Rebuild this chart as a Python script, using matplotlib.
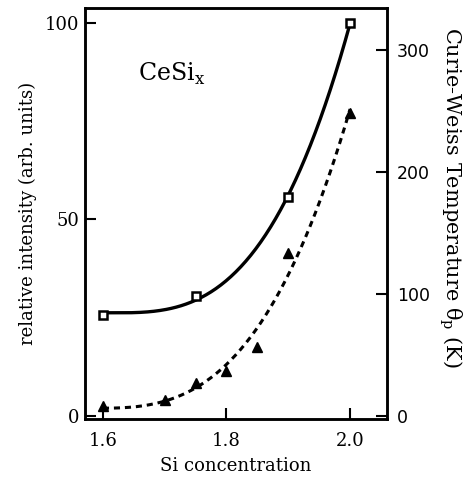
import matplotlib.pyplot as plt
import numpy as np

# data
x_sq = [1.6, 1.75, 1.9, 2.0]
intensity = [25.7, 30.4, 55.6, 100.0]          # relative intensity (arb. units)

x_tri = [1.6, 1.7, 1.75, 1.8, 1.85, 1.9, 2.0]
theta_p = [8, 13, 27, 37, 57, 134, 248]        # Curie-Weiss temperature (K)

xticks = [1.6, 1.8, 2.0]
left_ticks = [0, 50, 100]
right_ticks = [0, 100, 200, 300]


def flat_fit(x, y, xs):
    # least squares a + b*t^2 + c*t^3, flat at the first point
    t = np.asarray(x) - x[0]
    A = np.column_stack([np.ones_like(t), t**2, t**3])
    coef = np.linalg.lstsq(A, np.asarray(y, float), rcond=None)[0]
    ts = xs - x[0]
    return coef[0] + coef[1] * ts**2 + coef[2] * ts**3


plt.rcParams['font.family'] = 'DejaVu Serif'
plt.rcParams['axes.linewidth'] = 1.8

fig = plt.figure(figsize=(4.67, 4.88), dpi=100)
ax = fig.add_axes([0.182, 0.141, 0.647, 0.843])
ax2 = ax.twinx()

xs = np.linspace(1.6, 2.0, 200)
ax.plot(xs, flat_fit(x_sq, intensity, xs), color='black', lw=2.4)
ax.plot(x_sq, intensity, 's', ms=6, mfc='white', mec='black', mew=1.8)

ax2.plot(xs, flat_fit(x_tri, theta_p, xs), color='black', lw=2.2,
         ls=(0, (2.0, 1.6)))
ax2.plot(x_tri, theta_p, '^', ms=7, color='black')

ax.set_xlim(1.571, 2.06)
ax.set_ylim(-0.8, 103.8)
ax2.set_ylim(-2.5, 334.4)

ax.set_xticks(xticks)
ax.set_xticklabels(['1.6', '1.8', '2.0'])
ax.set_yticks(left_ticks)
ax2.set_yticks(right_ticks)

ax.tick_params(direction='in', length=8, width=1.5, labelsize=13, pad=4)
ax.tick_params(axis='x', pad=9)
ax2.tick_params(direction='in', length=8, width=1.5, labelsize=12.5, pad=7)
for lab in ax2.get_yticklabels():
    lab.set_family('DejaVu Sans')

ax.set_xlabel('Si concentration', fontsize=13, labelpad=5)
ax.set_ylabel('relative intensity (arb. units)', fontsize=13, labelpad=6)
ax2.set_ylabel(r'Curie-Weiss Temperature $\mathregular{\theta_p}$ (K)',
               fontsize=15, rotation=270, va='center')
ax2.yaxis.set_label_coords(1.21, 0.54)

ax.text(1.656, 87, r'CeSi$_\mathregular{x}$', fontsize=17, ha='left',
        va='center')

fig.savefig('out.png', dpi=100)
